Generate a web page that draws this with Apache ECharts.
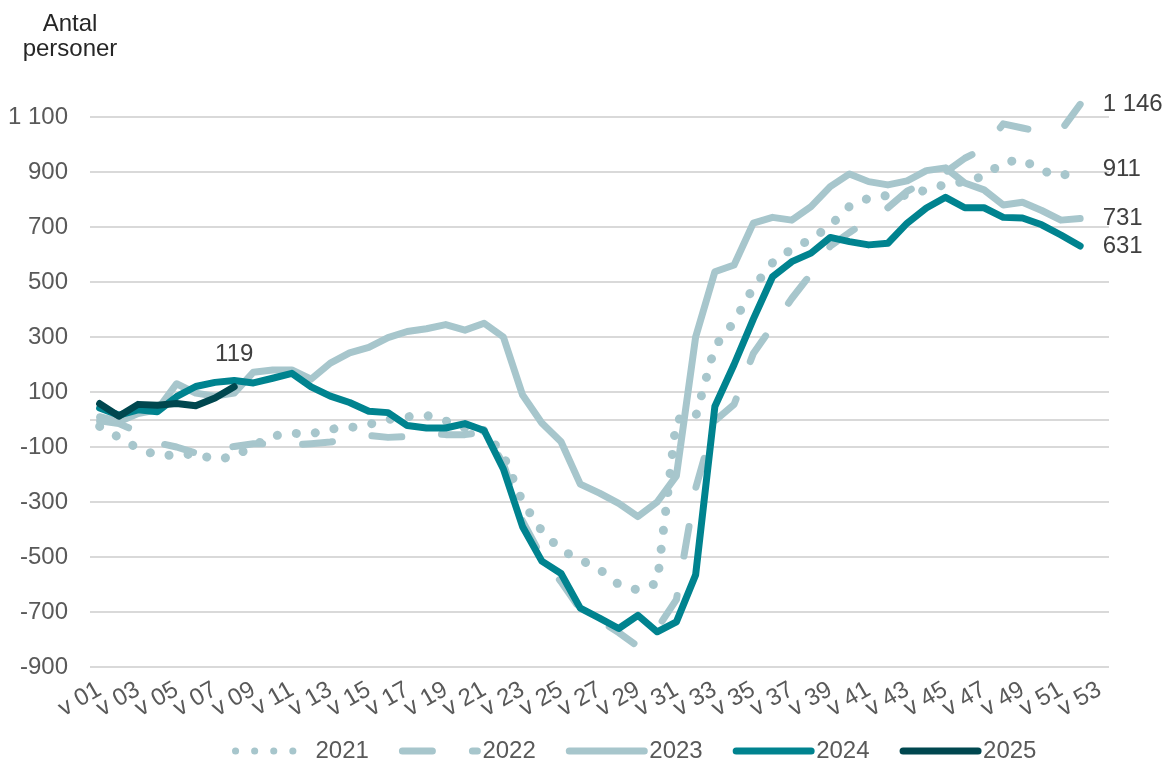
<!DOCTYPE html>
<html>
<head>
<meta charset="utf-8">
<script src="https://cdn.jsdelivr.net/npm/echarts@6/dist/echarts.min.js"></script>
<style>
  html, body { margin: 0; padding: 0; background: #ffffff; }
  #chart { width: 1168px; height: 761px; }
</style>
</head>
<body>
<div id="chart"></div>
<script>
const weeks = ['v 01','v 02','v 03','v 04','v 05','v 06','v 07','v 08','v 09','v 10',
  'v 11','v 12','v 13','v 14','v 15','v 16','v 17','v 18','v 19','v 20',
  'v 21','v 22','v 23','v 24','v 25','v 26','v 27','v 28','v 29','v 30',
  'v 31','v 32','v 33','v 34','v 35','v 36','v 37','v 38','v 39','v 40',
  'v 41','v 42','v 43','v 44','v 45','v 46','v 47','v 48','v 49','v 50',
  'v 51','v 52','v 53'];

const y2021 = [-25,-65,-105,-130,-130,-125,-145,-135,-95,-60,
  -50,-52,-35,-30,-18,0,10,15,-5,-30,
  -40,-130,-300,-405,-475,-510,-545,-600,-620,-595,
  0,10,265,355,480,570,620,655,705,775,
  805,815,815,835,855,865,885,935,945,905,
  885,911];

const y2022 = [-5,-15,-45,-85,-100,-122,-108,-98,-88,-88,
  -93,-88,-82,-70,-58,-65,-62,-50,-55,-55,
  -45,-160,-370,-500,-590,-690,-730,-775,-825,-760,
  -655,-250,-5,55,240,340,440,530,630,680,
  725,770,830,865,900,950,985,1075,1060,1045,
  1050,1146];

const y2023 = [10,-8,22,35,130,96,85,96,172,180,
  180,147,205,242,262,298,320,330,345,325,
  350,300,89,-13,-81,-235,-268,-305,-353,-300,
  -205,300,537,562,714,735,725,774,847,893,
  865,853,868,905,915,860,835,780,790,760,
  725,731];

const y2024 = [42,16,35,28,83,120,135,142,133,150,
  168,119,85,62,30,25,-22,-31,-31,-15,
  -40,-180,-390,-515,-560,-686,-722,-760,-712,-772,
  -736,-565,47,200,365,519,574,605,662,647,
  635,641,714,769,808,770,770,735,733,708,
  671,631];

const y2025 = [58,12,55,52,58,50,78,119];

const seriesNames = ['2021','2022','2023','2024','2025'];
const colors = ['#a7c6cc','#a7c6cc','#a7c6cc','#00838f','#00474f'];

const FONT = '"Liberation Sans", Arial, sans-serif';
const fmt = v => String(v).replace(/\B(?=(\d{3})+(?!\d))/g, ' ');

function withLabel(arr, idx, position, distance) {
  return arr.map((v, i) => i === idx ? {
    value: v,
    label: {
      show: true, position: position, distance: distance,
      formatter: fmt(v), fontSize: 24, color: '#404040', fontFamily: FONT
    }
  } : v);
}

const chart = echarts.init(document.getElementById('chart'), null, {renderer: 'canvas'});

const lineBase = (name, data, color, style, z) => ({
  name: name,
  type: 'line',
  data: data,
  symbol: 'circle',
  symbolSize: 1,
  showSymbol: true,
  showAllSymbol: true,
  clip: false,
  z: z,
  lineStyle: Object.assign({color: color, width: 7, cap: 'round', join: 'round'}, style),
  itemStyle: {color: 'rgba(0,0,0,0)', borderWidth: 0},
  label: {show: false},
  labelLayout: {hideOverlap: false},
  emphasis: {disabled: true}
});

const s2021 = lineBase('2021', withLabel(y2021, y2021.length - 1, 'right', 22), colors[0], {type: [0.1, 19], width: 9}, 2);
s2021.markLine = {
  silent: true, symbol: 'none', label: {show: false},
  lineStyle: {color: '#d9d9d9', width: 2, type: 'solid'},
  data: [{yAxis: 0}], z: 1
};

const option = {
  animation: false,
  backgroundColor: '#ffffff',
  textStyle: {fontFamily: FONT},
  graphic: [
    {type: 'text', x: 70, y: 24, style: {text: 'Antal', x: 0, y: 0, textAlign: 'center', verticalAlign: 'middle', font: '24px ' + FONT, fill: '#262626'}},
    {type: 'text', x: 70, y: 49, style: {text: 'personer', x: 0, y: 0, textAlign: 'center', verticalAlign: 'middle', font: '24px ' + FONT, fill: '#262626'}}
  ],
  legend: {
    left: 227, top: 734,
    itemWidth: 75, itemHeight: 14, itemGap: 30,
    data: seriesNames,
    textStyle: {fontSize: 24, color: '#595959', fontFamily: FONT},
    itemStyle: {color: 'rgba(0,0,0,0)', borderWidth: 0, opacity: 0},
    lineStyle: {width: 7}
  },
  grid: {left: 90, right: 59, top: 117, bottom: 94, containLabel: false},
  xAxis: {
    type: 'category',
    data: weeks,
    boundaryGap: true,
    axisLine: {show: false, onZero: false},
    axisTick: {show: false},
    splitLine: {show: false},
    axisLabel: {interval: 0, rotate: 30, margin: 21, fontSize: 24, color: '#595959', fontFamily: FONT,
      formatter: (value, index) => (index % 2 === 0 ? value : ''),
      showMinLabel: true, showMaxLabel: true, hideOverlap: false}
  },
  yAxis: {
    type: 'value',
    min: -900, max: 1100, interval: 200,
    axisLine: {show: false},
    axisTick: {show: false},
    axisLabel: {margin: 22, fontSize: 24, color: '#595959', fontFamily: FONT, formatter: v => fmt(v)},
    splitLine: {show: true, lineStyle: {color: '#d9d9d9', width: 2}}
  },
  series: [
    s2021,
    lineBase('2022', withLabel(y2022, y2022.length - 1, 'right', 22), colors[1], {type: [30, 40]}, 3),
    lineBase('2023', withLabel(y2023, y2023.length - 1, 'right', 22), colors[2], {type: 'solid'}, 4),
    lineBase('2024', withLabel(y2024, y2024.length - 1, 'right', 22), colors[3], {type: 'solid'}, 5),
    lineBase('2025', withLabel(y2025, y2025.length - 1, 'top', 20), colors[4], {type: 'solid'}, 6)
  ]
};

chart.setOption(option);
</script>
</body>
</html>
